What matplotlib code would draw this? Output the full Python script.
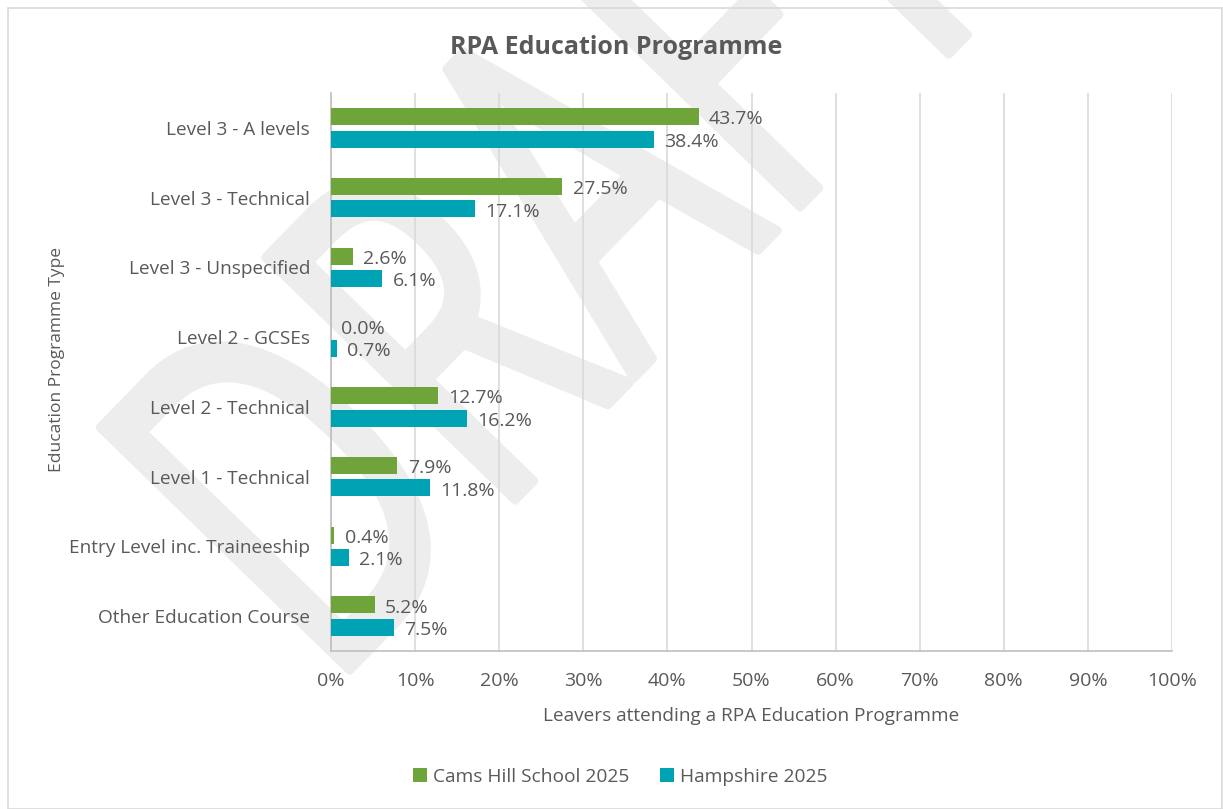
import matplotlib
matplotlib.use("Agg")
import matplotlib.pyplot as plt
from matplotlib.patches import Rectangle, PathPatch
from matplotlib.textpath import TextPath
from matplotlib.font_manager import FontProperties
from matplotlib.transforms import Affine2D
import numpy as np

categories = ["Level 3 - A levels", "Level 3 - Technical", "Level 3 - Unspecified",
              "Level 2 - GCSEs", "Level 2 - Technical", "Level 1 - Technical",
              "Entry Level inc. Traineeship", "Other Education Course"]
cams_hill = [43.7, 27.5, 2.6, 0.0, 12.7, 7.9, 0.4, 5.2]
hampshire = [38.4, 17.1, 6.1, 0.7, 16.2, 11.8, 2.1, 7.5]
series_names = ["Cams Hill School 2025", "Hampshire 2025"]
x_ticks = [0, 10, 20, 30, 40, 50, 60, 70, 80, 90, 100]

GREEN = "#6ea43a"
TEAL = "#00a3b4"
TXT = "#595959"
W, H = 1223, 809

plt.rcParams['font.family'] = ['Open Sans', 'DejaVu Sans']

fig = plt.figure(figsize=(W / 100, H / 100), dpi=100)
fig.patch.set_facecolor("white")

# outer chart border
fig.patches.append(Rectangle((8 / W, 0), 1 - 8 / W - 0.001, 1 - 8 / H,
                             transform=fig.transFigure, fill=False,
                             edgecolor="#d9d9d9", linewidth=1.2, zorder=0))

# DRAFT watermark (stretched, rotated text path)
tp = TextPath((0, 0), "DRAFT", size=1, prop=FontProperties(family="Open Sans"))
bb = tp.get_extents()
sy = 350 / bb.y1
sx = 0.67 * sy
tr = (Affine2D().translate(-(bb.x0 + 0.045), 0).scale(sx, sy)
      .rotate_deg(45.8).translate(360, H - 660))
wm = PathPatch(tp, facecolor="#ededed", edgecolor="#ededed", linewidth=6,
               joinstyle="round", zorder=0)
wm.set_transform(tr)
fig.add_artist(wm)

ax = fig.add_axes([331 / W, 1 - 651 / H, (1172 - 331) / W, (651 - 93) / H])
ax.set_facecolor("none")
ax.set_zorder(2)

y = np.arange(len(categories))
h = 0.244
off = 0.161
b1 = ax.barh(y - off, cams_hill, height=h, color=GREEN, label=series_names[0], zorder=3)
b2 = ax.barh(y + off, hampshire, height=h, color=TEAL, label=series_names[1], zorder=3)

for bars, vals in ((b1, cams_hill), (b2, hampshire)):
    for rect, v in zip(bars, vals):
        ax.annotate(f"{v:.1f}%", (rect.get_width(), rect.get_y() + rect.get_height() / 2),
                    xytext=(7.5, -2), textcoords="offset points", ha="left", va="center",
                    fontsize=14, color=TXT, zorder=4)

ax.set_xlim(0, 100)
ax.set_ylim(len(categories) - 0.5, -0.5)
ax.set_xticks(x_ticks)
ax.set_xticklabels([f"{t}%" for t in x_ticks])
ax.set_yticks(y)
ax.set_yticklabels(categories)
ax.tick_params(axis="both", length=0, labelcolor=TXT)
ax.tick_params(axis="x", pad=15, labelsize=14)
ax.tick_params(axis="y", pad=15, labelsize=13.7)
ax.grid(axis="x", color="#d9d9d9", linewidth=1.2, zorder=0)
ax.set_axisbelow(True)
for s in ("top", "right"):
    ax.spines[s].set_visible(False)
for s in ("left", "bottom"):
    ax.spines[s].set_color("#bfbfbf")
    ax.spines[s].set_linewidth(1.2)

fig.text(751 / W, 1 - 716 / H, "Leavers attending a RPA Education Programme",
         ha="center", va="center", fontsize=13.7, color=TXT)
fig.text(57 / W, 1 - 360 / H, "Education Programme Type", rotation=90,
         ha="center", va="center", fontsize=12.5, color=TXT)

fig.text(616 / W, 1 - 47 / H, "RPA Education Programme", ha="center", va="center",
         fontsize=18, fontweight="bold", color=TXT)

fig.legend(handles=[b1, b2], labels=series_names, loc="center",
           bbox_to_anchor=(620 / W, 1 - 777 / H), ncol=2, frameon=False,
           fontsize=13.8, handlelength=0.75, handleheight=0.75, handletextpad=0.3,
           columnspacing=1.6, labelcolor=TXT)

fig.savefig("out.png", dpi=100, facecolor="white")
